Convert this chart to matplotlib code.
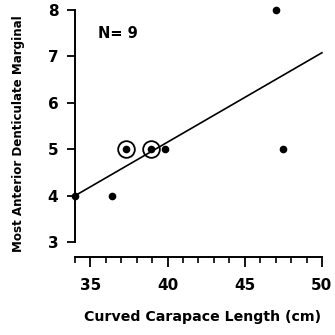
import numpy as np
import matplotlib
matplotlib.use('Agg')
from matplotlib import pyplot as plt
from matplotlib.ticker import MultipleLocator

# data
length = [34.0, 36.4, 37.3, 38.9, 39.8, 47.0, 47.5]
marginal = [4, 4, 5, 5, 5, 8, 5]
circled = [False, False, True, True, False, False, False]   # circled = two turtles
fit_x = [34.0, 50.0]
fit_y = [4.0, 7.08]
xticks = [35, 40, 45, 50]
yticks = [3, 4, 5, 6, 7, 8]

plt.rcParams['font.family'] = 'DejaVu Sans'

fig = plt.figure(figsize=(3.35, 3.35), dpi=100)
ax = fig.add_axes([0.224, 0.233, 0.737, 0.737])

ax.plot(fit_x, fit_y, color='black', lw=1.2, clip_on=False)
ax.plot(length, marginal, 'o', color='black', ms=4.5, clip_on=False)
cx = [x for x, c in zip(length, circled) if c]
cy = [y for y, c in zip(marginal, circled) if c]
ax.plot(cx, cy, 'o', mfc='none', mec='black', ms=12, mew=1.3, clip_on=False)

ax.text(35.5, 7.5, 'N= 9', fontsize=10.5, weight='bold', va='center')

ax.set_xlim(34, 50)
ax.set_ylim(2.68, 8)
ax.spines['top'].set_visible(False)
ax.spines['right'].set_visible(False)
ax.spines['left'].set_bounds(3, 8)
ax.spines['bottom'].set_bounds(34, 50)
for s in ['left', 'bottom']:
    ax.spines[s].set_linewidth(1.4)

ax.set_xticks(xticks)
ax.set_yticks(yticks)
ax.xaxis.set_minor_locator(MultipleLocator(1))
ax.tick_params(axis='both', which='major', direction='out', length=6, width=1.3,
               labelsize=11)
ax.tick_params(axis='y', which='major', pad=6)
ax.tick_params(axis='x', which='major', length=7, pad=8)
ax.tick_params(axis='x', which='minor', length=4, width=1.2)
for lab in ax.get_xticklabels() + ax.get_yticklabels():
    lab.set_fontweight('bold')

ax.set_xlabel('Curved Carapace Length (cm)', fontsize=10.2, weight='bold')
ax.xaxis.set_label_coords(0.515, -0.215)
ax.set_ylabel('Most Anterior Denticulate Marginal', fontsize=8.6, weight='bold', labelpad=16)

plt.savefig('out.png', dpi=100)
